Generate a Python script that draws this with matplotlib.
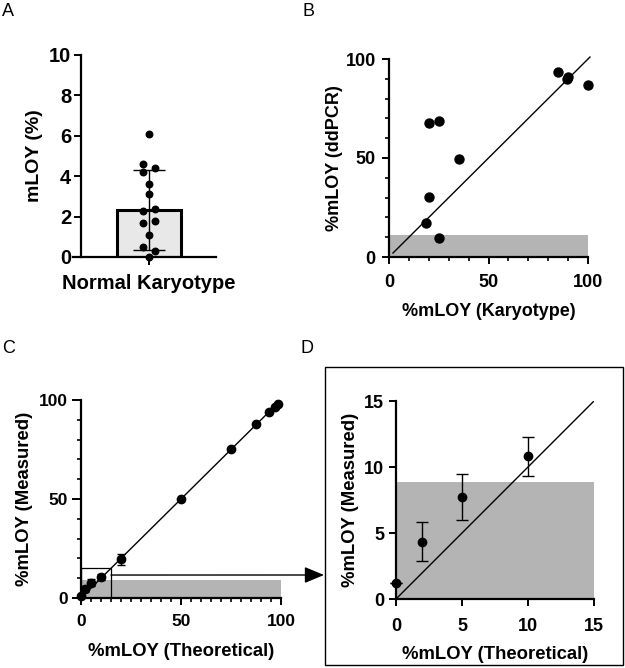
import numpy as np
import matplotlib
matplotlib.use("Agg")
import matplotlib.pyplot as plt
from matplotlib.patches import Rectangle

plt.rcParams["font.family"] = ["Liberation Sans", "DejaVu Sans"]
plt.rcParams["font.weight"] = "bold"
plt.rcParams["axes.labelweight"] = "bold"

# --- panel A: mLOY in normal karyotype samples ---
a_category = "Normal Karyotype"
a_mean = 2.33
a_sd = 2.0
a_points = [6.1, 4.6, 4.4, 4.2, 3.6, 3.1, 2.3, 2.4, 1.7, 1.8, 1.1, 0.5, 0.3, 0.0]
a_jitter = [0, -1, 1, -1, 0, 0, -1, 1, -1, 1, 0, -1, 1, 0]

# --- panel B: karyotype vs ddPCR ---
b_karyotype = [84.8, 89.6, 89.8, 100, 19.9, 25.1, 35.2, 19.9, 18.8, 25.1]
b_ddpcr = [93.3, 90.1, 91.0, 87.1, 67.8, 68.8, 49.5, 30.5, 17.1, 9.7]
b_background = 11

# --- panel C: dilution series ---
c_theoretical = [0, 2, 5, 10, 20, 50, 75, 87.5, 93.75, 96.9, 98.4]
c_measured = [1.2, 4.4, 7.7, 10.8, 19.6, 50.0, 75.5, 88.0, 94.0, 96.5, 98.2]
c_err = [0, 1.5, 1.8, 1.5, 2.8, 0, 0, 0, 0, 0, 0]
c_background = 9

# --- panel D: zoom of the low end ---
d_theoretical = [0, 2, 5, 10]
d_measured = [1.2, 4.35, 7.73, 10.8]
d_err = [0, 1.47, 1.77, 1.47]
d_background = 8.9

GREY = "#b4b4b4"
W, H = 625, 668
fig = plt.figure(figsize=(W / 100, H / 100), dpi=100)


def px_axes(x0, x1, ytop, ybot):
    return fig.add_axes([x0 / W, (H - ybot) / H, (x1 - x0) / W, (ybot - ytop) / H])


def style(ax, size=13, xpad=6.5, ypad=3.5):
    for s in ["top", "right"]:
        ax.spines[s].set_visible(False)
    for s in ["left", "bottom"]:
        ax.spines[s].set_linewidth(1.6)
    ax.tick_params(which="major", length=5, width=1.4, labelsize=size)
    ax.tick_params(which="minor", length=3.2, width=1.2)
    ax.tick_params(axis="x", which="major", pad=xpad)
    ax.tick_params(axis="y", which="major", pad=ypad)
    for lab in ax.get_xticklabels() + ax.get_yticklabels():
        lab.set_fontweight("bold")


# A
axA = px_axes(73, 216, 55, 257)
axA.bar([0], [a_mean], width=0.8, color="#e8e8e8", edgecolor="black", linewidth=2.2, zorder=1)
axA.errorbar([0], [a_mean], yerr=[a_sd], color="black", capsize=11.5, elinewidth=1, capthick=1, zorder=2)
axA.scatter(np.array(a_jitter) * 0.07, a_points, s=22, color="black", zorder=3, clip_on=False)
axA.set_xlim(-0.948, 0.838)
axA.set_ylim(0, 10)
axA.set_yticks([0, 2, 4, 6, 8, 10])
axA.set_xticks([0])
axA.set_xticklabels([a_category])
axA.set_ylabel("mLOY (%)", fontsize=14, labelpad=4)
style(axA, size=14.5, xpad=6.5, ypad=2)
axA.spines["left"].set_position(("axes", 8 / 143))
axA.tick_params(axis="x", length=6)

# B
axB = px_axes(389, 588, 59, 257)
axB.add_patch(Rectangle((0, 0), 100, b_background, color=GREY, lw=0, zorder=0))
axB.plot([2, 101], [2, 101], color="black", lw=1, clip_on=False, zorder=2)
axB.scatter(b_karyotype, b_ddpcr, s=42, color="black", zorder=3, clip_on=False)
axB.set_xlim(0, 100)
axB.set_ylim(0, 100)
axB.set_xticks([0, 50, 100])
axB.set_yticks([0, 50, 100])
axB.set_xticks(np.arange(0, 101, 10), minor=True)
axB.set_yticks(np.arange(0, 101, 10), minor=True)
axB.set_xlabel("%mLOY (Karyotype)", fontsize=13, labelpad=9)
axB.set_ylabel("%mLOY (ddPCR)", fontsize=13, labelpad=1.5)
style(axB, size=13, xpad=7, ypad=4.5)

# C
axC = px_axes(81, 281, 400, 598)
axC.add_patch(Rectangle((0, 0), 100, c_background, color=GREY, lw=0, zorder=0))
axC.add_patch(Rectangle((0, 0), 15, 15, fill=False, edgecolor="black", lw=0.9, zorder=2))
axC.plot([0, 99], [0, 99], color="black", lw=1, zorder=2)
axC.errorbar(c_theoretical, c_measured, yerr=c_err, fmt="o", ms=6, color="black",
             capsize=3, elinewidth=1, capthick=1, zorder=3, clip_on=False)
axC.set_xlim(0, 100)
axC.set_ylim(0, 100)
axC.set_xticks([0, 50, 100])
axC.set_yticks([0, 50, 100])
axC.set_xticks(np.arange(0, 101, 5), minor=True)
axC.set_yticks(np.arange(0, 101, 10), minor=True)
axC.set_xlabel("%mLOY (Theoretical)", fontsize=13.3, labelpad=10)
axC.set_ylabel("%mLOY (Measured)", fontsize=13.3, labelpad=4)
style(axC, size=12.5, xpad=6.5, ypad=3)
axC.tick_params(axis="y", which="major", length=6.5)
axC.annotate("", xy=(324 / W, (H - 575) / H), xycoords="figure fraction",
             xytext=(15, 11.6), textcoords="data",
             arrowprops=dict(arrowstyle="-|>,head_length=1.2,head_width=0.5",
                             color="black", lw=1, shrinkA=0, shrinkB=0))

# D
axD = px_axes(396, 594, 401, 599)
axD.add_patch(Rectangle((0, 0), 15, d_background, color=GREY, lw=0, zorder=0))
axD.plot([0, 15], [0, 15], color="black", lw=1, zorder=2)
axD.errorbar(d_theoretical, d_measured, yerr=d_err, fmt="o", ms=6, color="black",
             capsize=4, elinewidth=1, capthick=1, zorder=3, clip_on=False)
axD.set_xlim(0, 15)
axD.set_ylim(0, 15)
axD.set_xticks([0, 5, 10, 15])
axD.set_yticks([0, 5, 10, 15])
axD.set_xlabel("%mLOY (Theoretical)", fontsize=13.3, labelpad=8)
axD.set_ylabel("%mLOY (Measured)", fontsize=13.3, labelpad=3.5)
style(axD, size=13, xpad=8.5, ypad=3.5)

# frame round panel D
fig.add_artist(Rectangle((325 / W, (H - 665) / H), 298 / W, 298 / H, fill=False,
                         edgecolor="black", lw=1, transform=fig.transFigure))

# panel letters
for letter, x, y in [("A", 2, 3), ("B", 302, 3), ("C", 2, 340), ("D", 300, 340)]:
    fig.text(x / W, (H - y) / H, letter, fontsize=13, fontweight="normal", va="top", ha="left")

fig.savefig("out.png", dpi=100)
